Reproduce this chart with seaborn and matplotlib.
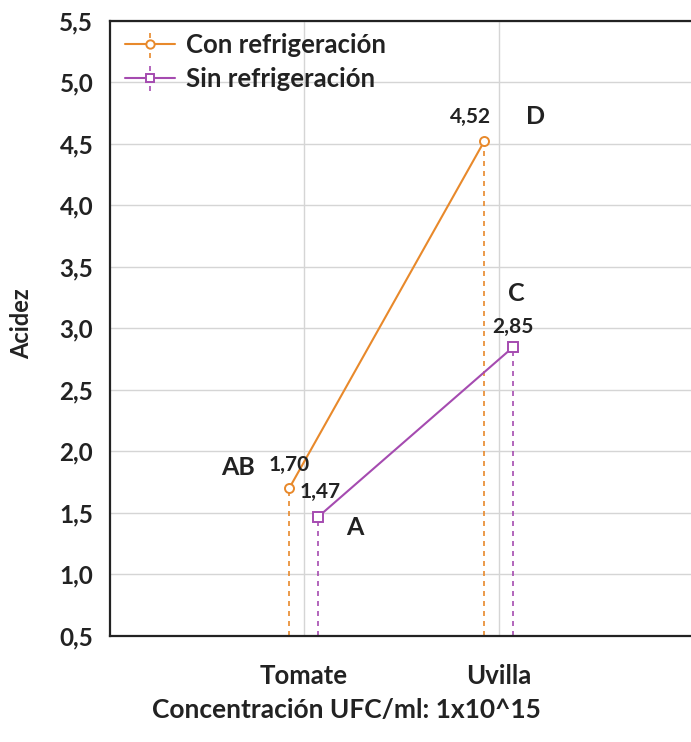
import numpy as np
import pandas as pd
import matplotlib
matplotlib.use("Agg")
import matplotlib.pyplot as plt
from matplotlib.lines import Line2D
from matplotlib.legend_handler import HandlerBase
from matplotlib.ticker import FuncFormatter
import seaborn as sns

# Data
categorias = ["Tomate", "Uvilla"]
con_refrig = [1.70, 4.52]
sin_refrig = [1.47, 2.85]
series = ["Con refrigeración", "Sin refrigeración"]
letras_con = ["AB", "D"]
letras_sin = ["A", "C"]

sns.set_style("white")
plt.rcParams["font.family"] = ["Lato", "DejaVu Sans"]
plt.rcParams["font.weight"] = "bold"

c_con = "#E8892B"
c_sin = "#A54BB0"
txt = "#222222"
offset = 0.075
ymin = 0.5


class WhiskerLineHandler(HandlerBase):
    """Legend key: horizontal line with marker crossed by a dashed vertical whisker."""

    def create_artists(self, legend, orig, xdescent, ydescent, width, height, fontsize, trans):
        cx = width / 2 - xdescent
        cy = height / 2 - ydescent
        col = orig.get_color()
        horiz = Line2D([-xdescent, width - xdescent], [cy, cy], color=col, lw=1.5)
        vert = Line2D([cx, cx], [cy - 0.75 * height, cy + 0.75 * height], color=col,
                      lw=1.2, linestyle=(0, (3, 3)))
        mark = Line2D([cx], [cy], marker=orig.get_marker(), ms=6, mfc="white",
                      mec=col, mew=1.4, linestyle="none")
        for a in (horiz, vert, mark):
            a.set_transform(trans)
        return [vert, horiz, mark]


rows = []
for i, cat in enumerate(categorias):
    rows.append({"x": i - offset, "acidez": con_refrig[i], "grupo": series[0]})
    rows.append({"x": i + offset, "acidez": sin_refrig[i], "grupo": series[1]})
df = pd.DataFrame(rows)

fig = plt.figure(figsize=(6.91, 7.42), dpi=100)
ax = fig.add_axes([0.159, 0.143, 0.845, 0.829])

# dashed drop lines from each mean to the axis floor
for i in range(len(categorias)):
    ax.vlines(i - offset, ymin, con_refrig[i], colors=c_con, linestyles=(0, (3, 3)), lw=1.2, zorder=2)
    ax.vlines(i + offset, ymin, sin_refrig[i], colors=c_sin, linestyles=(0, (3, 3)), lw=1.2, zorder=2)

sns.lineplot(data=df, x="x", y="acidez", hue="grupo", style="grupo",
             palette=[c_con, c_sin], markers=["o", "s"], dashes=False,
             markersize=6.5, markerfacecolor="white", markeredgewidth=1.4,
             lw=1.5, legend=False, ax=ax, zorder=3)
for line, col in zip(ax.lines, [c_con, c_sin]):
    line.set_markeredgecolor(col)

# value labels
fs_val = 15
ax.text(0 - offset, 1.89, f"{con_refrig[0]:.2f}".replace(".", ","), ha="center", va="center", fontsize=fs_val, color=txt)
ax.text(0 + 0.085, 1.67, f"{sin_refrig[0]:.2f}".replace(".", ","), ha="center", va="center", fontsize=fs_val, color=txt)
ax.text(1 - 0.145, 4.72, f"{con_refrig[1]:.2f}".replace(".", ","), ha="center", va="center", fontsize=fs_val, color=txt)
ax.text(1 + 0.07, 3.01, f"{sin_refrig[1]:.2f}".replace(".", ","), ha="center", va="center", fontsize=fs_val, color=txt)
# group letters
fs_let = 18
ax.text(-0.34, 1.87, letras_con[0], ha="center", va="center", fontsize=fs_let, color=txt)
ax.text(1.19, 4.72, letras_con[1], ha="center", va="center", fontsize=fs_let, color=txt)
ax.text(0.26, 1.38, letras_sin[0], ha="center", va="center", fontsize=fs_let, color=txt)
ax.text(1.09, 3.28, letras_sin[1], ha="center", va="center", fontsize=fs_let, color=txt)

ax.set_xlim(-0.995, 2.0)
ax.set_ylim(ymin, 5.5)
ax.set_xticks(range(len(categorias)))
ax.set_xticklabels(categorias)
ax.set_yticks(np.arange(0.5, 5.51, 0.5))
ax.yaxis.set_major_formatter(FuncFormatter(lambda v, p: f"{v:.1f}".replace(".", ",")))
ax.grid(True, color="#D5D5D5", lw=1.0)
ax.set_axisbelow(True)
ax.tick_params(axis="both", direction="in", length=4, width=1.2, labelsize=17.5, colors=txt)
ax.tick_params(axis="y", pad=12)
ax.tick_params(axis="x", pad=20, labelsize=18.5)
for lab in ax.get_xticklabels() + ax.get_yticklabels():
    lab.set_fontweight("bold")
for s in ["left", "bottom", "top"]:
    ax.spines[s].set_color(txt)
    ax.spines[s].set_linewidth(1.6)
ax.spines["right"].set_visible(False)

ax.set_xlabel("Concentración UFC/ml: 1x10^15", fontsize=19, fontweight="bold", color=txt, va="center")
ax.xaxis.set_label_coords(0.406, -0.121)
ax.set_ylabel("Acidez", fontsize=17, fontweight="bold", color=txt, va="center")
ax.yaxis.set_label_coords(-0.151, 0.507)

# legend keys
k1 = Line2D([], [], color=c_con, marker="o")
k2 = Line2D([], [], color=c_sin, marker="s")
leg = ax.legend([k1, k2], series, loc="upper left", bbox_to_anchor=(0.0, 1.005),
                frameon=False, fontsize=18.5, handlelength=1.95, handletextpad=0.43,
                labelspacing=0.38, borderaxespad=0.3, borderpad=0.3,
                handler_map={Line2D: WhiskerLineHandler()})
for t in leg.get_texts():
    t.set_fontweight("bold")
    t.set_color(txt)

fig.savefig("out.png", dpi=100)
